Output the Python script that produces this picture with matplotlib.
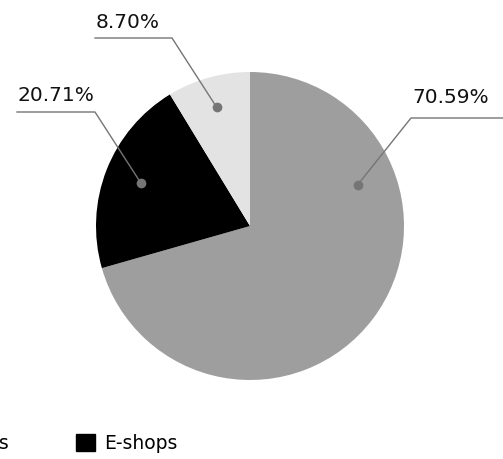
import matplotlib
matplotlib.use("Agg")
import matplotlib.pyplot as plt
import numpy as np

plt.rcParams["font.family"] = ["DejaVu Sans"]

labels = ["Physical stores", "E-shops", "Other"]
shares = [70.59, 20.71, 8.70]
colors = ["#9e9e9e", "#000000", "#e3e3e3"]

W, H = 503, 459
fig = plt.figure(figsize=(W / 100, H / 100), dpi=100)
ax = fig.add_axes([0, 0, 1, 1])

cx, cy, r = 250, H - 226, 154
wedges, _ = ax.pie(shares, colors=colors, startangle=90, counterclock=False,
                   radius=r, center=(cx, cy), frame=True,
                   wedgeprops=dict(linewidth=0))
ax.set_xlim(0, W)
ax.set_ylim(0, H)
ax.set_aspect("equal")
ax.axis("off")

# label anchors: dot angle (deg), elbow point, end of horizontal leader
mids = [(w.theta1 + w.theta2) / 2 for w in wedges]
dot_ang = [21, mids[1], mids[2]]      # big slice label is pulled up
dot_rad = [0.75, 0.76, 0.80]
elbows = [(411, H - 118), (95, H - 112), (172, H - 38)]
ends = [503, 17, 95]
text_gap = [11, 7, 6]

for i, s in enumerate(shares):
    a = np.deg2rad(dot_ang[i])
    dx, dy = cx + dot_rad[i] * r * np.cos(a), cy + dot_rad[i] * r * np.sin(a)
    ex, ey = elbows[i]
    ax.plot([dx, ex, ends[i]], [dy, ey, ey], color="#757575", lw=1)
    ax.plot(dx, dy, "o", color="#757575", ms=7, mec="none")
    left = min(ex, ends[i])
    ax.text(left + 1, ey + text_gap[i], f"{s:.2f}%", fontsize=14.5,
            ha="left", va="bottom", color="#111111")

# legend is filled column-wise; order so row 1 reads stores, e-shops
order = [0, 2, 1]
handles = [plt.Rectangle((0, 0), 1, 1, color=colors[i]) for i in order]
leg = fig.legend(handles, [labels[i] for i in order], ncol=2, frameon=False,
                 fontsize=13.5, loc="upper left",
                 bbox_to_anchor=(-159 / W, 1 - 434 / H),
                 handlelength=1.0, handleheight=1.0, handletextpad=0.5,
                 columnspacing=3.6, borderpad=0, borderaxespad=0,
                 labelspacing=2.5)

fig.savefig("out.png", dpi=100)
